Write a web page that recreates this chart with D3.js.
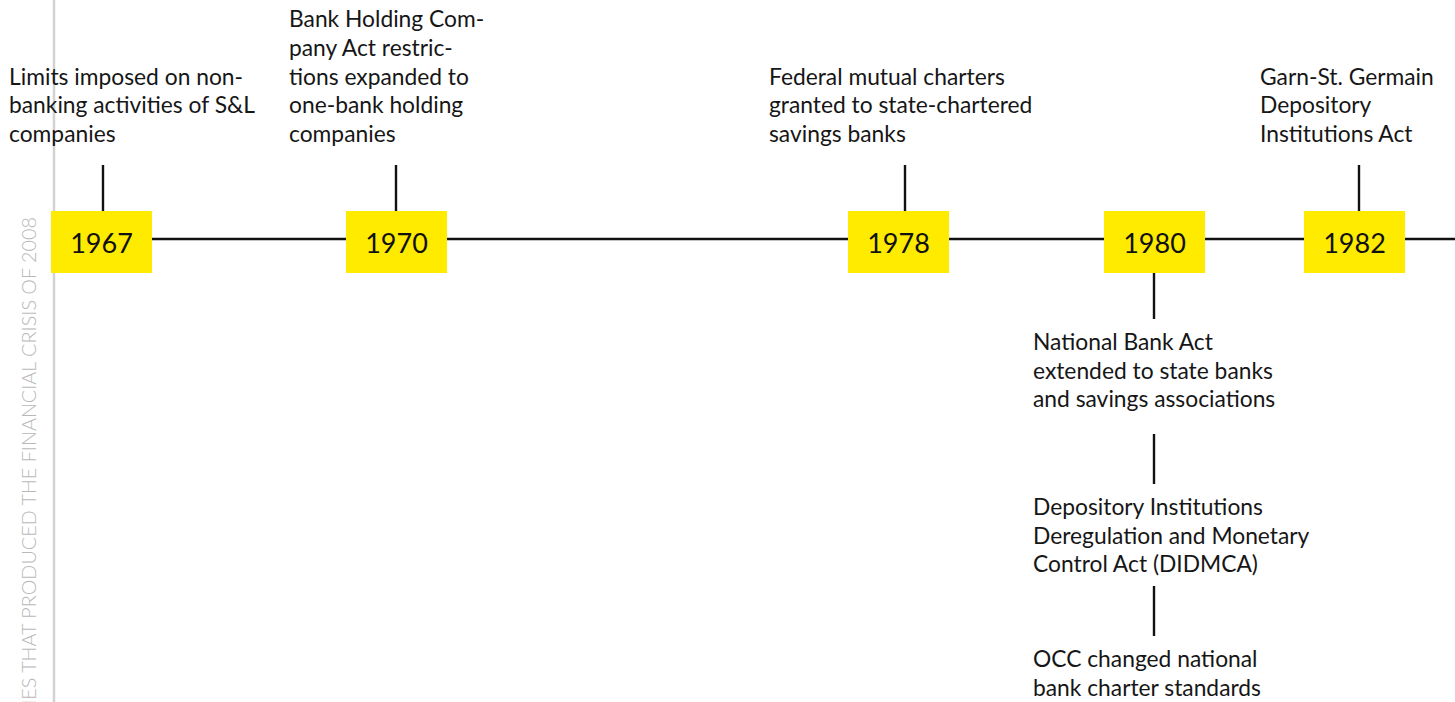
<!DOCTYPE html>
<html>
<head>
<meta charset="utf-8">
<script src="https://cdn.jsdelivr.net/npm/d3@7"></script>
<style>
  html, body { margin: 0; padding: 0; background: #fff; overflow: hidden; }
  .label { font-family: Lato, "Open Sans", sans-serif; font-size: 22.8px; fill: #161616; }
  .year { font-family: Lato, "Open Sans", sans-serif; font-size: 27px; font-weight: 400; fill: #111; }
  .side { font-family: Lato, "Open Sans", sans-serif; font-size: 19.8px; font-weight: 300; fill: #b8b8b8; }
</style>
</head>
<body>
<div class="timeline"></div>
<script>
var totalWidth = 1455;
var totalHeight = 702;

// DATA
var years = [1967, 1970, 1978, 1980, 1982];

var aboveYears = [1967, 1970, 1978, 1982];
var aboveText = [
  ["Limits imposed on non-", "banking activities of S&L", "companies"],
  ["Bank Holding Com-", "pany Act restric-", "tions expanded to", "one-bank holding", "companies"],
  ["Federal mutual charters", "granted to state-chartered", "savings banks"],
  ["Garn-St. Germain", "Depository", "Institutions Act"]
];

var belowYear = 1980;
var belowText = [
  ["National Bank Act", "extended to state banks", "and savings associations"],
  ["Depository Institutions", "Deregulation and Monetary", "Control Act (DIDMCA)"],
  ["OCC changed national", "bank charter standards"]
];

var sideTitle = "DEREGULATORY POLICIES THAT PRODUCED THE FINANCIAL CRISIS OF 2008";

// LAYOUT
var lineY = 239;
var boxW = 101, boxH = 62, boxTop = 211;
var lineHeight = 28.7;
var topStem = [165, boxTop];
var aboveLastBaseline = 142;
// label left edge relative to box centre
var aboveDx = { 1967: -92.5, 1970: -107.5, 1978: -129.5, 1982: -94.5 };
var stemDx = { 1967: 1.5, 1970: -0.5, 1978: 6.5, 1980: -0.5, 1982: 4.5 };
var belowDx = -121.5;
var belowStems = [[273, 319], [434, 484], [586, 636]];
var belowFirstBaseline = [350, 515, 667];

// X SCALE (uneven spacing on the original)
var xScale = d3.scaleLinear()
  .domain(years)
  .range([101.5, 396.5, 898.5, 1154.5, 1354.5]);

var svg = d3.select(".timeline")
  .append("svg")
  .attr("width", totalWidth)
  .attr("height", totalHeight);

svg.append("rect")
  .attr("width", totalWidth)
  .attr("height", totalHeight)
  .attr("fill", "#fff");

// grey page rule + running title
svg.append("line")
  .attr("x1", 54).attr("x2", 54)
  .attr("y1", 0).attr("y2", totalHeight)
  .attr("stroke", "#d2d2d2")
  .attr("stroke-width", 2.5);

svg.append("text")
  .attr("class", "side")
  .attr("transform", "translate(36,217) rotate(-90)")
  .attr("text-anchor", "end")
  .text(sideTitle);

// main line
svg.append("line")
  .attr("x1", xScale(years[0])).attr("x2", totalWidth)
  .attr("y1", lineY).attr("y2", lineY)
  .attr("stroke", "#111")
  .attr("stroke-width", 2.6);

// stems above
var aboveGroup = svg.append("g").attr("id", "above");

aboveGroup.selectAll("line")
  .data(aboveYears)
  .enter()
  .append("line")
  .attr("x1", function(d) { return xScale(d) + stemDx[d]; })
  .attr("x2", function(d) { return xScale(d) + stemDx[d]; })
  .attr("y1", topStem[0])
  .attr("y2", topStem[1])
  .attr("stroke", "#111")
  .attr("stroke-width", 2.4);

aboveGroup.selectAll("text")
  .data(aboveYears)
  .enter()
  .append("text")
  .attr("class", "label")
  .each(function(d, i) {
    var lines = aboveText[i];
    var x = xScale(d) + aboveDx[d];
    var first = aboveLastBaseline - (lines.length - 1) * lineHeight;
    d3.select(this).selectAll("tspan")
      .data(lines)
      .enter()
      .append("tspan")
      .attr("x", x)
      .attr("y", function(l, j) { return first + j * lineHeight; })
      .text(function(l) { return l; });
  });

// stems + text below 1980
var belowGroup = svg.append("g").attr("id", "below");
var bx = xScale(belowYear);

belowGroup.selectAll("line")
  .data(belowText)
  .enter()
  .append("line")
  .attr("x1", bx + stemDx[belowYear])
  .attr("x2", bx + stemDx[belowYear])
  .attr("y1", function(d, i) { return belowStems[i][0]; })
  .attr("y2", function(d, i) { return belowStems[i][1]; })
  .attr("stroke", "#111")
  .attr("stroke-width", 2.4);

belowGroup.selectAll("text")
  .data(belowText)
  .enter()
  .append("text")
  .attr("class", "label")
  .each(function(lines, i) {
    d3.select(this).selectAll("tspan")
      .data(lines)
      .enter()
      .append("tspan")
      .attr("x", bx + belowDx)
      .attr("y", function(l, j) { return belowFirstBaseline[i] + j * lineHeight; })
      .text(function(l) { return l; });
  });

// year boxes
var boxes = svg.append("g").attr("id", "boxes")
  .selectAll("g")
  .data(years)
  .enter()
  .append("g")
  .attr("transform", function(d) { return "translate(" + xScale(d) + ",0)"; });

boxes.append("rect")
  .attr("x", -boxW / 2)
  .attr("y", boxTop)
  .attr("width", boxW)
  .attr("height", boxH)
  .attr("fill", "#ffeb00");

boxes.append("text")
  .attr("class", "year")
  .attr("text-anchor", "middle")
  .attr("y", 253)
  .text(function(d) { return d; });
</script>
</body>
</html>
